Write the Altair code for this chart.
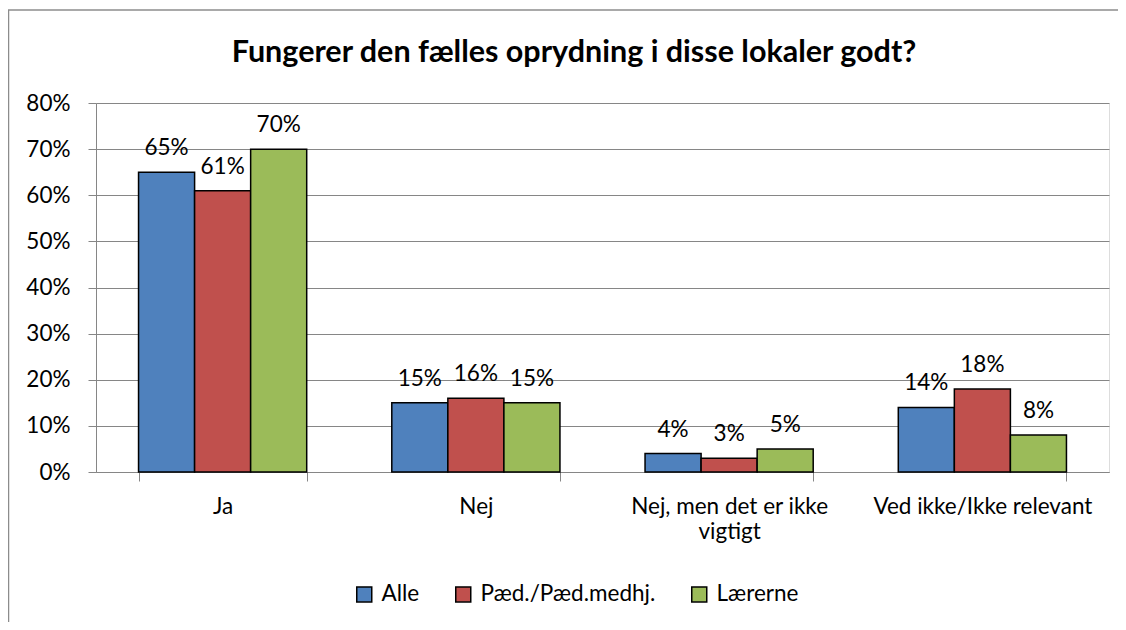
import altair as alt
import pandas as pd

categories = ["Ja", "Nej", "Nej, men det er ikke vigtigt", "Ved ikke/Ikke relevant"]
groups = ["Alle", "Pæd./Pæd.medhj.", "Lærerne"]
alle = [0.65, 0.15, 0.04, 0.14]
paed = [0.61, 0.16, 0.03, 0.18]
laer = [0.70, 0.15, 0.05, 0.08]
colors = ["#4F81BD", "#C0504D", "#9BBB59"]
title_text = "Fungerer den fælles oprydning i disse lokaler godt?"

rows = []
for i, c in enumerate(categories):
    for g, vals in zip(groups, [alle, paed, laer]):
        rows.append({"cat": c, "grp": g, "val": vals[i]})
df = pd.DataFrame(rows)

FONT = "Lato"
FS = 22.5
W, H = 1013, 369

x_enc = alt.X(
    "cat:N", sort=categories, title=None,
    scale=alt.Scale(paddingInner=0.336, paddingOuter=0.168),
    axis=alt.Axis(
        labelAngle=0, labelFontSize=FS, labelFont=FONT, labelColor="#000000",
        labelPadding=14, tickBand="extent", tickSize=9, tickColor="#868686",
        domainColor="#868686", labelLineHeight=25, labelBaseline="top", labelLimit=0,
        labelExpr="datum.label == 'Nej, men det er ikke vigtigt' ? ['Nej, men det er ikke', 'vigtigt'] : datum.label",
    ),
)
xo_enc = alt.XOffset("grp:N", sort=groups, scale=alt.Scale(paddingInner=0, paddingOuter=0))
y_enc = alt.Y(
    "val:Q", title=None,
    scale=alt.Scale(domain=[0, 0.8], nice=False),
    axis=alt.Axis(
        format=".0%", values=[0, 0.1, 0.2, 0.3, 0.4, 0.5, 0.6, 0.7, 0.8],
        labelFontSize=FS, labelFont=FONT, labelColor="#000000", labelPadding=18,
        tickSize=8, tickColor="#868686", domainColor="#868686",
        gridColor="#868686", gridWidth=1,
    ),
)

base = alt.Chart(df)
bars = base.mark_bar(stroke="#000000", strokeWidth=1.5).encode(
    x=x_enc, xOffset=xo_enc, y=y_enc,
    color=alt.Color(
        "grp:N", sort=groups, scale=alt.Scale(domain=groups, range=colors),
        legend=alt.Legend(
            title=None, orient="none", direction="horizontal",
            legendX=257, legendY=480, symbolType="square", symbolSize=225,
            symbolStrokeColor="#000000", symbolStrokeWidth=1.5,
            labelFontSize=FS, labelFont=FONT, labelColor="#000000", labelLimit=0,
            columnPadding=32, labelOffset=6,
        ),
    ),
)
labels = base.mark_text(
    baseline="alphabetic", dy=-17, fontSize=FS, font=FONT, color="#000000"
).encode(
    x=x_enc, xOffset=xo_enc, y=y_enc,
    text=alt.Text("val:Q", format=".0%"),
)

one = alt.Chart(pd.DataFrame({"a": [0]}))
top_line = one.mark_rule(stroke="#8c8c8c", strokeWidth=1.5).encode(
    x=alt.value(-88), x2=alt.value(W + 40), y=alt.value(-93)
)
left_line = one.mark_rule(stroke="#8c8c8c", strokeWidth=1.5).encode(
    x=alt.value(-87.5), y=alt.value(-93), y2=alt.value(H + 200)
)
title = one.mark_text(
    fontSize=30.5, fontWeight="bold", font=FONT, color="#000000", align="center", baseline="middle"
).encode(x=alt.value(478), y=alt.value(-50), text=alt.value(title_text))

chart = alt.layer(top_line, left_line, bars, labels, title).properties(
    width=W, height=H,
    autosize=alt.AutoSizeParams(type="none"),
    padding={"left": 88, "top": 95, "right": 9, "bottom": 150},
).configure_view(stroke=None).configure(background="#ffffff")

chart.save("out.html", embed_options={"renderer": "svg", "actions": False})
